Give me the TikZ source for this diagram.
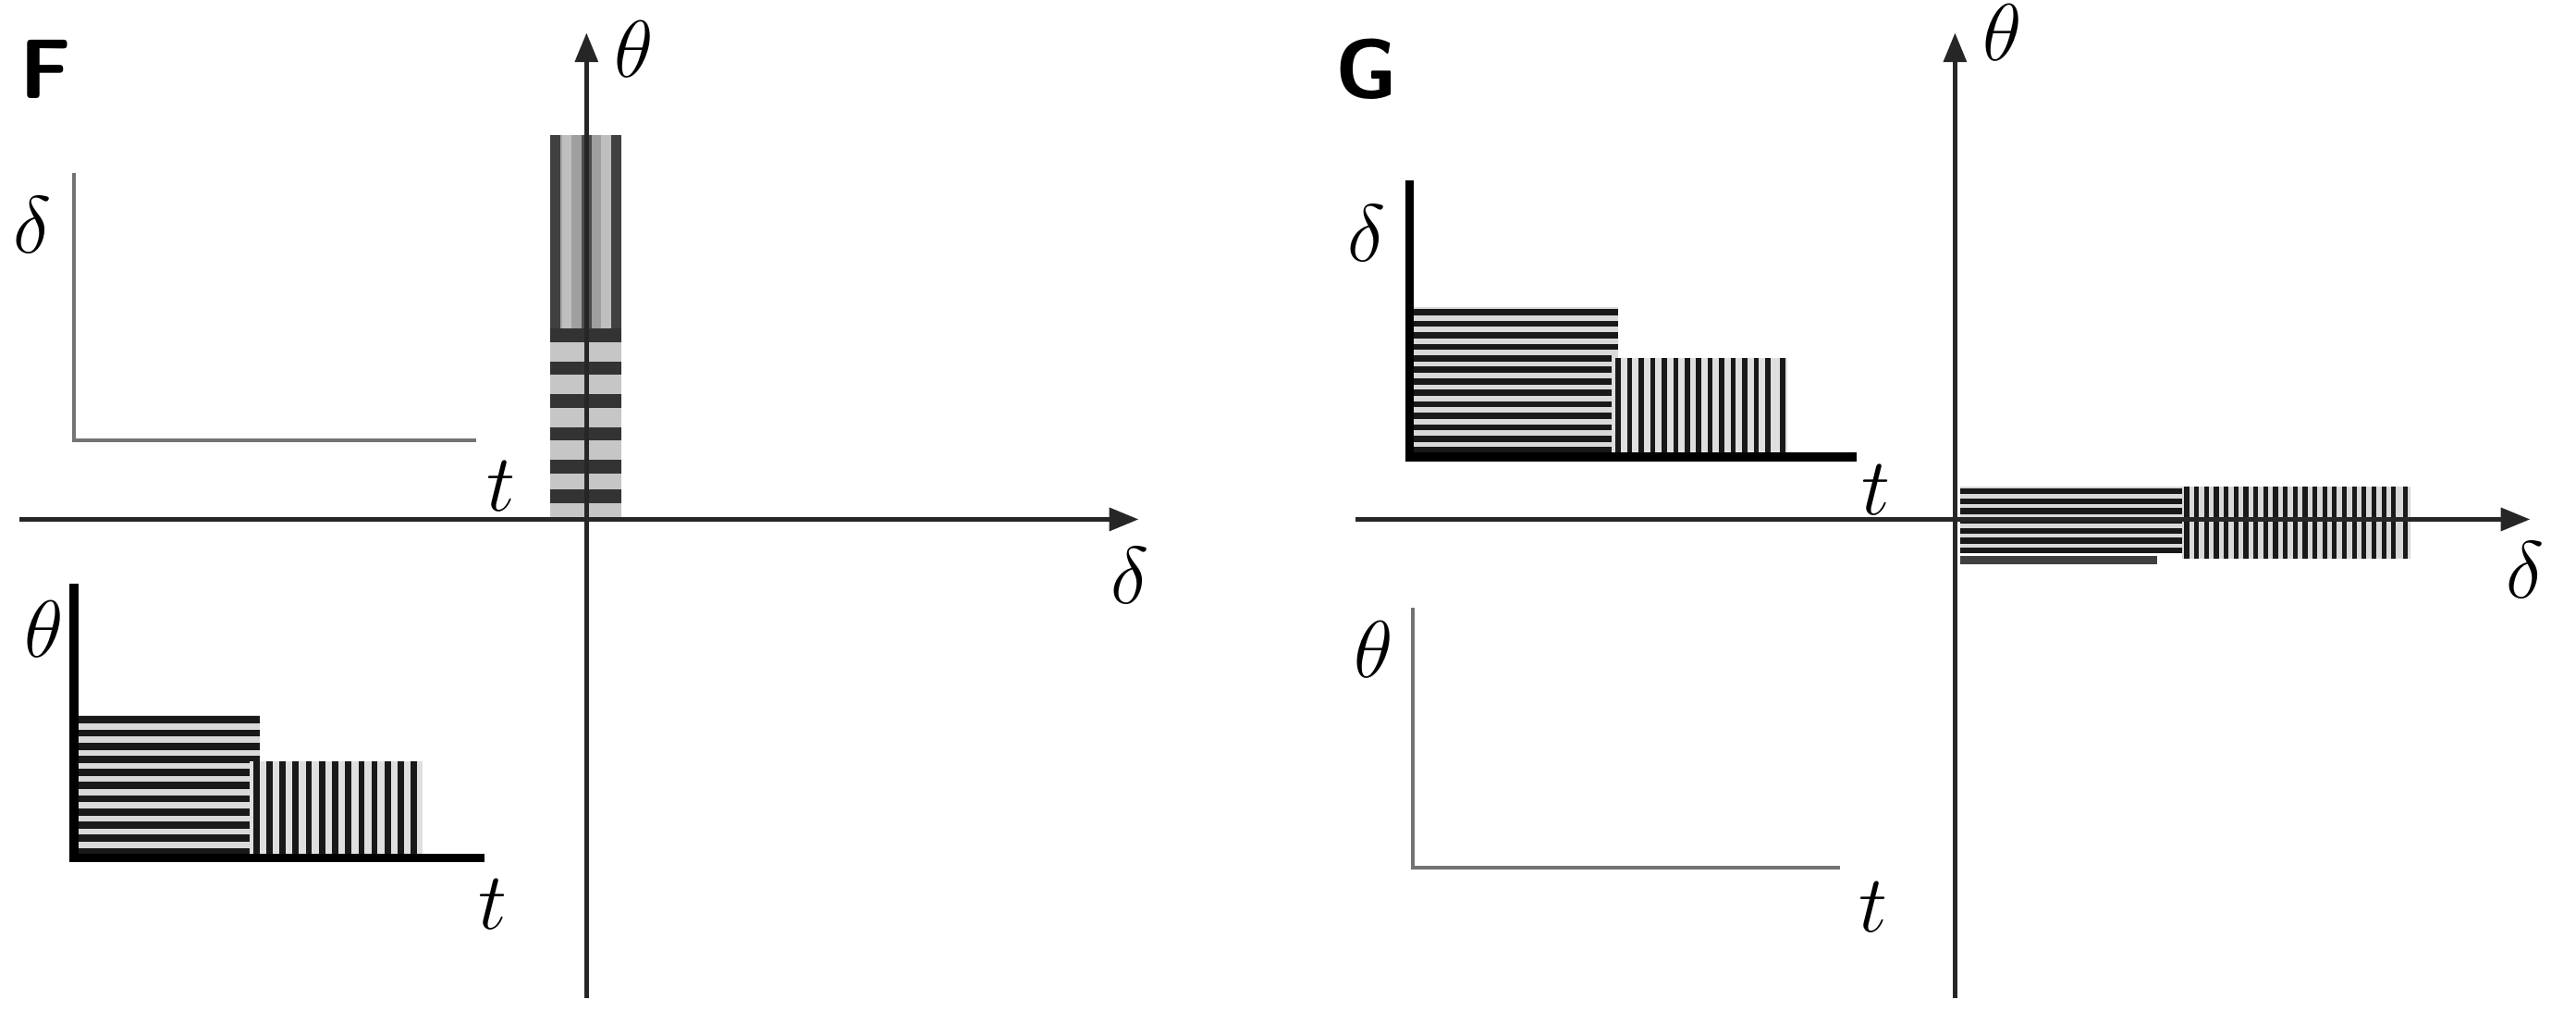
\documentclass[tikz,border=0pt]{standalone}
\usetikzlibrary{arrows.meta}
\begin{document}
\begin{tikzpicture}[x=0.01777cm,y=-0.01777cm,
  ax/.style={line width=1.3pt,black!85,-{Triangle[length=9pt,width=7pt]}},
  axn/.style={line width=1.3pt,black!85},
  thinax/.style={line width=1.2pt,black!55},
  thickax/.style={line width=2.6pt,black},
  lab/.style={font=\fontsize{24}{24}\selectfont, inner sep=0pt},
  panel/.style={font=\sffamily\bfseries\fontsize{26}{26}\selectfont, inner sep=0pt},
  hs/.style={line width=2.2pt,black!90},
  vs/.style={line width=1.9pt,black!90}]
\useasboundingbox (0,0) rectangle (1568,622.5);
% ================= F =================
\node[panel] (F) at (28,42) {F};
% F bar
\fill[gray!70] (335,82) rectangle (378,200);
\foreach \x/\c in {338/black!75,345/gray!50,351/gray!75,357/black!70,363/gray!75,369/gray!50,375/black!75}
  \fill[\c] (\x-3,82) rectangle (\x+3,200);
\fill[gray!45] (335,200) rectangle (378,316);
\foreach \y in {200,220,240,260,280,298}
  \fill[black!80] (335,\y) rectangle (378,\y+8);
% axes
\draw[axn] (12,316) -- (672,316);
\draw[ax] (672,316) -- (693,316);
\draw[axn] (357,607) -- (357,40);
\draw[ax] (357,60) -- (357,20);
\node[lab] (Fd) at (688,350) {$\delta$};
\node[lab] (Ft) at (386,30) {$\theta$};
% upper-left plot
\draw[thinax] (45,105) -- (45,268) -- (290,268);
\node[lab] (Fd2) at (20,137) {$\delta$};
\node[lab] (Ft2) at (305,296) {$t$};
% lower-left plot
\fill[gray!30] (47,435) rectangle (158,467);
\fill[gray!30] (47,467) rectangle (152,522);
\foreach \y in {438,446,454,462,470,478,486,494,502,510,518}
  \draw[hs] (47,\y) -- (\ifdim\y pt<467pt 158\else 152\fi,\y);
\fill[gray!25] (152,463) rectangle (257,522);
\foreach \x in {156,164,172,180,188,196,204,212,220,228,236,244,252}
  \draw[vs] (\x,463) -- (\x,522);
\draw[thickax] (45,355) -- (45,522) -- (295,522);
\node[lab] (Ft3) at (27,383) {$\theta$};
\node[lab] (Ft4) at (300,550) {$t$};
% ================= G =================
\node[panel] (G) at (832,42) {G};
% G bar
\fill[gray!30] (1193,296) rectangle (1330,336);
\foreach \y in {299,305,311,317,323,329,335}
  \draw[hs,line width=1.8pt] (1193,\y) -- (1330,\y);
\draw[hs,line width=2.6pt,black!75] (1193,341) -- (1313,341);
\fill[gray!30] (1328,296) rectangle (1467,340);
\foreach \x in {1331,1337,1343,1349,1355,1361,1367,1373,1379,1385,1391,1397,1403,1409,1415,1421,1427,1433,1439,1445,1451,1457,1464}
  \draw[vs,line width=1.5pt] (\x,296) -- (\x,340);
% axes
\draw[axn] (825,316) -- (1520,316);
\draw[ax] (1520,316) -- (1540,316);
\draw[axn] (1190,607) -- (1190,40);
\draw[ax] (1190,60) -- (1190,20);
\node[lab] (Gd) at (1537,347) {$\delta$};
\node[lab] (Gt) at (1219,20) {$\theta$};
% upper-left plot
\fill[gray!30] (860,187) rectangle (985,218);
\fill[gray!30] (860,218) rectangle (981,278);
\foreach \y in {190,197,204,211,218,225,232,239,246,253,260,267,274}
  \draw[hs,line width=1.9pt] (860,\y) -- (\ifdim\y pt<218pt 985\else 981\fi,\y);
\fill[gray!25] (981,218) rectangle (1088,278);
\foreach \x in {985,992,999,1006,1013,1020,1027,1034,1041,1048,1055,1062,1069,1076,1085}
  \draw[vs,line width=1.6pt] (\x,218) -- (\x,278);
\draw[thickax] (858,110) -- (858,278) -- (1130,278);
\node[lab] (Gd2) at (832,142) {$\delta$};
\node[lab] (Gt2) at (1142,298) {$t$};
% lower-left plot
\draw[thinax] (860,370) -- (860,528) -- (1120,528);
\node[lab] (Gt3) at (836,395) {$\theta$};
\node[lab] (Gt4) at (1140,552) {$t$};
\end{tikzpicture}
\end{document}
